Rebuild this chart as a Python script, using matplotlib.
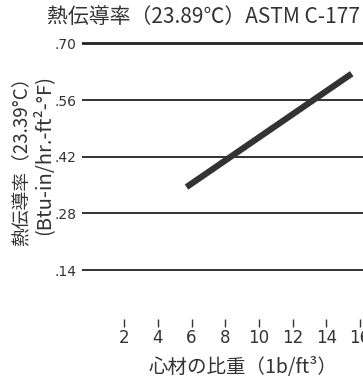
import matplotlib.pyplot as plt

plt.rcParams['font.family'] = ['Noto Sans CJK JP', 'DejaVu Sans']

# density of core material (lb/ft3) vs thermal conductivity
density = [5.7, 15.5]
conductivity = [0.345, 0.625]

x_ticks = [2, 4, 6, 8, 10, 12, 14, 16]
y_ticks = [0.14, 0.28, 0.42, 0.56, 0.70]
y_labels = ['.14', '.28', '.42', '.56', '.70']

num_font = ['Liberation Sans Narrow', 'DejaVu Sans']

fig = plt.figure(figsize=(3.63, 3.78), dpi=100)
ax = fig.add_axes([0.226, 0.1357, 0.774, 0.771])

for v in y_ticks:
    lw = 2.0 if v == y_ticks[-1] else 1.3
    ax.axhline(v, color='#222222', lw=lw, zorder=1)

ax.plot(density, conductivity, color='#333333', lw=4.5,
        solid_capstyle='butt', zorder=3)

ax.set_xlim(-0.5, 16.17)
ax.set_ylim(0, 0.72)
ax.set_xticks(x_ticks)
ax.set_xticklabels([str(t) for t in x_ticks], family=num_font,
                   fontsize=12, color='#333333')
ax.set_yticks(y_ticks)
ax.set_yticklabels(y_labels, family=num_font, fontsize=10, color='#333333')
ax.tick_params(axis='x', direction='in', length=6, width=1, pad=2, color='#333333')
ax.tick_params(axis='y', length=0, pad=4)
for s in ax.spines.values():
    s.set_visible(False)

ax.set_xlabel('心材の比重（1b/ft³）', fontsize=14, color='#333333')
ax.xaxis.set_label_coords(0.573, -0.105)
fig.text(0.058, 0.585, '熱伝導率（23.39°C）', rotation=90, ha='center', va='center',
         fontsize=13.5, color='#333333')
fig.text(0.118, 0.59, '(Btu-in/hr.-ft²-°F)', rotation=90, ha='center', va='center',
         fontsize=14.5, color='#333333')
fig.text(0.56, 0.952, '熱伝導率（23.89℃）ASTM C-177', ha='center', va='center',
         fontsize=15, color='#333333')

fig.savefig('out.png', dpi=100)
